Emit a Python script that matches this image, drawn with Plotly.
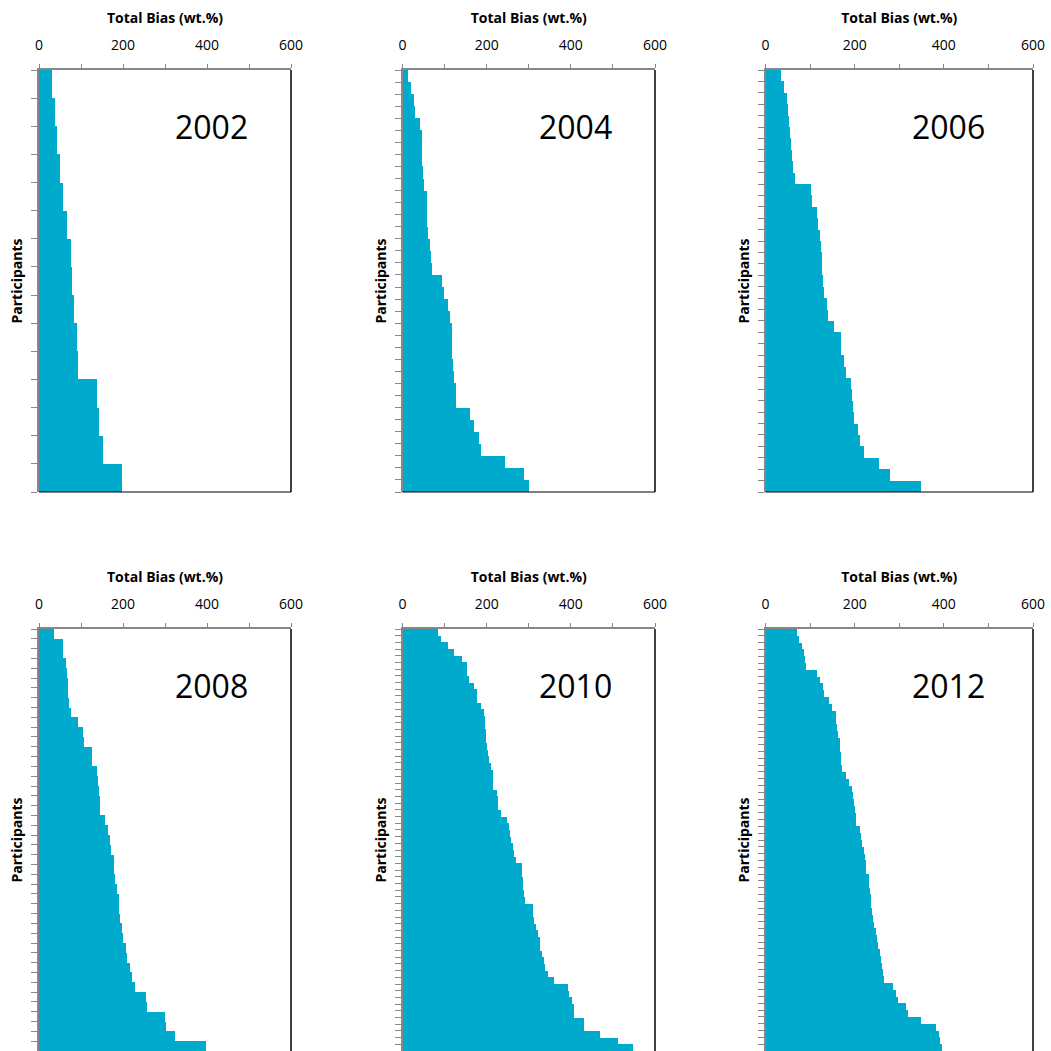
import plotly.graph_objects as go

years = ["2002", "2004", "2006", "2008", "2010", "2012"]

bias_2002 = [31, 38, 44, 49, 58, 67, 77, 79, 83, 90, 93, 137, 143, 153, 198]
bias_2004 = [13, 20, 25, 28, 40, 46, 46, 46, 47, 51, 56, 57, 58, 59, 64, 67, 68,
             93, 98, 107, 112, 116, 116, 117, 119, 122, 127, 127, 159, 168, 181,
             185, 243, 287, 300]
bias_2006 = [33, 40, 46, 50, 52, 53, 55, 58, 61, 66, 100, 104, 115, 117, 122, 123,
             125, 126, 128, 131, 137, 140, 152, 168, 169, 174, 179, 191, 193, 196,
             198, 206, 211, 220, 253, 278, 347]
bias_2008 = [35, 56, 58, 65, 67, 68, 70, 71, 75, 92, 104, 108, 125, 127, 139, 140,
             142, 146, 146, 158, 164, 168, 171, 178, 179, 181, 185, 190, 191, 192,
             197, 201, 206, 210, 217, 221, 228, 254, 257, 299, 302, 323, 398]
bias_2010 = [84, 90, 108, 120, 140, 151, 151, 158, 169, 176, 177, 186, 193, 194, 195,
             197, 198, 199, 201, 205, 209, 213, 214, 215, 224, 225, 226, 233, 248,
             252, 255, 256, 262, 263, 268, 283, 283, 285, 286, 287, 290, 308, 309,
             311, 317, 321, 325, 326, 331, 336, 337, 344, 359, 393, 394, 402, 406,
             407, 429, 430, 468, 511, 546]
bias_2012 = [70, 74, 80, 85, 88, 89, 115, 121, 127, 131, 142, 148, 156, 157, 160,
             162, 165, 167, 169, 169, 171, 179, 186, 192, 195, 198, 199, 201, 202,
             211, 213, 216, 220, 223, 225, 225, 230, 231, 233, 235, 236, 238, 240,
             242, 247, 249, 252, 255, 259, 261, 263, 264, 284, 291, 295, 314, 319,
             348, 382, 387, 391, 395]

x_tickvals = [0, 100, 200, 300, 400, 500, 600]
x_ticktext = ["0", "", "200", "", "400", "", "600"]
x_title = "Total Bias (wt.%)"
y_title = "Participants"

data = [bias_2002, bias_2004, bias_2006, bias_2008, bias_2010, bias_2012]

W = H = 1051
BAR = "#00AACD"
GRAY = "#878787"
FONT = "Open Sans"

col_px = [(39, 291), (402.5, 655), (765.5, 1033)]
row_px = [(70, 492), (629, 1051)]

fig = go.Figure()
layout = {}
annotations = []
shapes = []
for i, (yr, vals) in enumerate(zip(years, data)):
    r, c = divmod(i, 3)
    ax = "" if i == 0 else str(i + 1)
    n = len(vals)
    x0, x1 = col_px[c]
    y0, y1 = row_px[r]
    xdom = [x0 / W, x1 / W]
    ydom = [max(0, 1 - y1 / H), 1 - y0 / H]
    fig.add_trace(go.Bar(
        x=vals, y=list(range(1, n + 1)), orientation="h", width=1,
        marker=dict(color=BAR, line=dict(width=0)),
        xaxis="x" + ax, yaxis="y" + ax, showlegend=False, hoverinfo="x"))
    layout["xaxis" + ax] = dict(
        domain=xdom, anchor="y" + ax, side="top", range=[0, 600],
        tickvals=x_tickvals, ticktext=x_ticktext, ticks="outside", ticklen=4,
        tickwidth=1, tickcolor=GRAY, showline=True, linecolor=GRAY, linewidth=1.5,
        showgrid=False, zeroline=False, fixedrange=True, ticklabelstandoff=9,
        automargin=False,
        tickfont=dict(family=FONT, size=14, color="#000000"),
        title=dict(text="<b>" + x_title + "</b>", standoff=8,
                   font=dict(family=FONT, size=14, color="#000000")))
    layout["yaxis" + ax] = dict(
        domain=ydom, anchor="x" + ax, range=[n + 0.5, 0.5],
        tickmode="linear", tick0=0.5, dtick=1, showticklabels=False,
        ticks="outside", ticklen=6, tickwidth=1.2, tickcolor=GRAY,
        showline=True, linecolor=GRAY, linewidth=2, showgrid=False,
        zeroline=False, fixedrange=True, automargin=False,
        title=dict(text="<b>" + y_title + "</b>", standoff=5,
                   font=dict(family=FONT, size=14, color="#000000")))
    annotations.append(dict(
        text=yr, xref="x" + ax + " domain", yref="y" + ax + " domain",
        x=0.685, y=1 - 0.135, xanchor="center", yanchor="middle", showarrow=False,
        font=dict(family=FONT, size=32, color="#000000")))
    shapes.append(dict(type="line", xref="x" + ax + " domain", yref="y" + ax + " domain",
                       x0=1, x1=1, y0=0, y1=1, line=dict(color="#000000", width=1.5)))
    if r == 0:
        shapes.append(dict(type="line", xref="x" + ax + " domain", yref="y" + ax + " domain",
                           x0=0, x1=1, y0=0, y1=0, line=dict(color="#000000", width=1.2)))

fig.update_layout(
    width=W, height=H, margin=dict(l=0, r=0, t=0, b=0, pad=0, autoexpand=False),
    paper_bgcolor="white", plot_bgcolor="white", bargap=0,
    annotations=annotations, shapes=shapes, showlegend=False, **layout)

fig.write_html(
    "out.html",
    config={"displayModeBar": False},
    post_script="document.body.style.margin='0';"
                "document.documentElement.style.overflow='hidden';")
